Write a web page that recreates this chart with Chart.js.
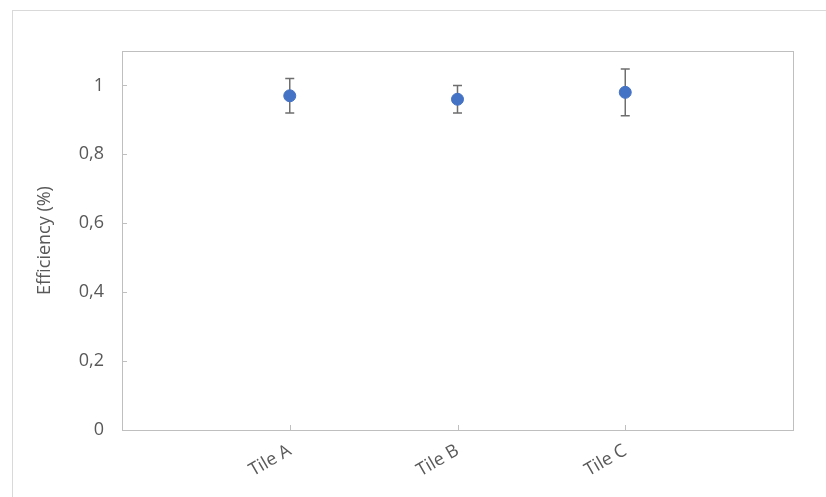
<!DOCTYPE html>
<html>
<head>
<meta charset="utf-8">
<script src="https://cdn.jsdelivr.net/npm/chart.js@4.4.0/dist/chart.umd.min.js"></script>
<style>
  html, body { margin: 0; padding: 0; background: #fff; }
  #wrap { position: relative; width: 826px; height: 497px; overflow: hidden; }
  #frame { position: absolute; left: 12px; top: 10px; width: 820px; height: 500px; border: 1px solid #d9d9d9; box-sizing: border-box; }
  canvas { position: absolute; left: 0; top: 0; }
</style>
</head>
<body>
<div id="wrap">
  <div id="frame"></div>
  <canvas id="chart" width="826" height="497"></canvas>
</div>
<script>
// efficiency per tile, with error bar half-widths
const tiles = ["Tile A", "Tile B", "Tile C"];
const efficiency = [0.97, 0.96, 0.98];
const errors = [0.05, 0.04, 0.068];
const yTicks = [0, 0.2, 0.4, 0.6, 0.8, 1];

const textColor = "#595959";
const fontFamily = "'Open Sans', sans-serif";

// error bars + inner tick marks + plot frame
const extras = {
  id: "extras",
  beforeDatasetsDraw(chart) {
    const { ctx, chartArea: a, scales: { x, y } } = chart;
    ctx.save();
    ctx.strokeStyle = "#bfbfbf";
    ctx.lineWidth = 1;
    ctx.strokeRect(a.left + 0.5, a.top + 0.5, a.right - a.left, a.bottom - a.top);
    // inner ticks
    yTicks.forEach(v => {
      const py = Math.round(y.getPixelForValue(v)) + 0.5;
      ctx.beginPath();
      ctx.moveTo(a.left, py);
      ctx.lineTo(a.left + 5, py);
      ctx.stroke();
    });
    tiles.forEach((t, i) => {
      const px = Math.round(x.getPixelForValue(i + 1)) + 0.5;
      ctx.beginPath();
      ctx.moveTo(px, a.bottom);
      ctx.lineTo(px, a.bottom - 5);
      ctx.stroke();
    });
    // error bars
    ctx.strokeStyle = "#6e6e6e";
    ctx.lineWidth = 1.5;
    efficiency.forEach((v, i) => {
      const px = x.getPixelForValue(i + 1);
      const top = y.getPixelForValue(v + errors[i]);
      const bot = y.getPixelForValue(v - errors[i]);
      ctx.beginPath();
      ctx.moveTo(px, top);
      ctx.lineTo(px, bot);
      ctx.moveTo(px - 4.5, top);
      ctx.lineTo(px + 4.5, top);
      ctx.moveTo(px - 4.5, bot);
      ctx.lineTo(px + 4.5, bot);
      ctx.stroke();
    });
    ctx.restore();
  }
};

new Chart(document.getElementById("chart"), {
  type: "scatter",
  data: {
    datasets: [{
      label: "Efficiency",
      data: efficiency.map((v, i) => ({ x: i + 1, y: v })),
      backgroundColor: "#4472c4",
      borderColor: "#4472c4",
      pointRadius: 6,
      pointHoverRadius: 6
    }]
  },
  options: {
    responsive: false,
    animation: false,
    layout: { padding: { top: 51, right: 33, left: 0, bottom: 0 } },
    plugins: { legend: { display: false }, tooltip: { enabled: false } },
    scales: {
      x: {
        type: "linear",
        min: 0,
        max: 4,
        afterBuildTicks: s => { s.ticks = tiles.map((t, i) => ({ value: i + 1 })); },
        afterFit: s => { s.height = 67; },
        grid: { display: false, drawTicks: false },
        border: { display: false },
        ticks: {
          color: textColor,
          font: { family: fontFamily, size: 18 },
          minRotation: 30,
          maxRotation: 30,
          padding: 10,
          callback: v => tiles[v - 1]
        }
      },
      y: {
        min: 0,
        max: 1.1,
        afterBuildTicks: s => { s.ticks = yTicks.map(v => ({ value: v })); },
        afterFit: s => { s.width = 122; },
        grid: { display: false, drawTicks: false },
        border: { display: false },
        title: {
          display: true,
          text: "Efficiency (%)",
          color: textColor,
          font: { family: fontFamily, size: 18 },
          padding: { top: 34, bottom: 0 }
        },
        ticks: {
          color: textColor,
          font: { family: fontFamily, size: 18 },
          padding: 18,
          callback: v => String(v).replace(".", ",")
        }
      }
    }
  },
  plugins: [extras]
});
</script>
</body>
</html>
